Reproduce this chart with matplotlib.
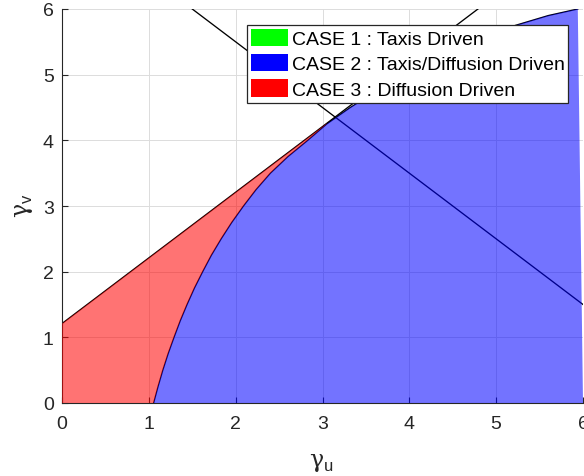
import matplotlib.pyplot as plt
import numpy as np
from matplotlib.patches import Patch

plt.rcParams['font.family'] = ['Liberation Sans', 'DejaVu Sans']
plt.rcParams['mathtext.fontset'] = 'custom'
plt.rcParams['mathtext.rm'] = 'DejaVu Serif'
plt.rcParams['mathtext.sf'] = 'Liberation Sans'

# Grenzkurve zwischen CASE 2 und CASE 3
kurve_u = [1.055, 1.106, 1.161, 1.222, 1.29, 1.361, 1.44, 1.525, 1.62, 1.72,
           1.833, 1.955, 2.09, 2.235, 2.40, 2.60, 2.83, 3.05, 3.32, 3.62,
           3.98, 4.36, 4.78, 5.22, 5.60, 5.94]
kurve_v = [0.00, 0.25, 0.50, 0.75, 1.00, 1.25, 1.50, 1.75, 2.00, 2.25,
           2.50, 2.75, 3.00, 3.25, 3.50, 3.75, 4.00, 4.25, 4.50, 4.75,
           5.00, 5.25, 5.50, 5.75, 5.90, 6.00]
beruehr_idx = 17  # Punkt, an dem die Kurve die steigende Gerade berührt

# steigende Gerade
gerade1_u = [0.0, 4.79]
gerade1_v = [1.21, 6.0]
# fallende Gerade
gerade2_u = [1.5, 6.0]
gerade2_v = [6.0, 1.5]

achse_max = 6
ticks = [0, 1, 2, 3, 4, 5, 6]

labels = ["CASE 1 : Taxis Driven",
          "CASE 2 : Taxis/Diffusion Driven",
          "CASE 3 : Diffusion Driven"]
farben = ["#00ff00", "#0000ff", "#ff0000"]

fig = plt.figure(figsize=(5.84, 4.77), dpi=100)
ax = fig.add_axes([62 / 584, 73 / 477, 521 / 584, 394 / 477])

# Linien unter den halbtransparenten Flächen
ax.plot(gerade1_u, gerade1_v, color="black", linewidth=0.95, zorder=2)
ax.plot(gerade2_u, gerade2_v, color="black", linewidth=0.95, zorder=2)
ax.plot(kurve_u, kurve_v, color="black", linewidth=0.95, zorder=2)

# CASE 3 Fläche: zwischen Gerade und Kurve
u_b = kurve_u[beruehr_idx]
v_b = np.interp(u_b, gerade1_u, gerade1_v)
rot_u = [0, 0, u_b] + kurve_u[beruehr_idx::-1]
rot_v = [0, gerade1_v[0], v_b] + kurve_v[beruehr_idx::-1]
ax.fill(rot_u, rot_v, color=farben[2], alpha=0.55, linewidth=0, zorder=3)

# CASE 2 Fläche: rechts der Kurve
blau_u = kurve_u + [achse_max]
blau_v = kurve_v + [0]
ax.fill(blau_u, blau_v, color=farben[1], alpha=0.55, linewidth=0, zorder=3)

ax.set_xlim(0, achse_max)
ax.set_ylim(0, achse_max)
ax.set_xticks(ticks)
ax.set_yticks(ticks)
ax.grid(True, color="#dcdcdc", linewidth=0.7)
ax.set_axisbelow(True)
ax.spines["top"].set_visible(False)
ax.spines["right"].set_visible(False)
for s in ("left", "bottom"):
    ax.spines[s].set_color("#262626")
    ax.spines[s].set_linewidth(0.8)
ax.tick_params(direction="in", length=4, width=0.8, colors="#262626",
               labelsize=14, top=False, right=False)
ax.tick_params(axis="x", pad=8.5)
ax.tick_params(axis="y", pad=6)

fig.text(321 / 584, 1 - 463 / 477, r"$\mathrm{\gamma}_{\mathsf{u}}$",
         fontsize=17, ha="center", va="center", color="#262626")
fig.text(24 / 584, 1 - 206 / 477, r"$\mathrm{\gamma}_{\mathsf{v}}$",
         fontsize=17, ha="center", va="center", rotation=90, color="#262626")

handles = [Patch(facecolor=f, edgecolor="none") for f in farben]
leg = fig.legend(handles, labels, loc="upper left",
                 bbox_to_anchor=(247 / 584, 1 - 26 / 477), borderaxespad=0,
                 fontsize=14, fancybox=False, framealpha=1, edgecolor="#262626",
                 handlelength=1.9, handleheight=1.0, handletextpad=0.2,
                 labelspacing=0.3, borderpad=0.2)
leg.get_frame().set_linewidth(0.9)
leg.set_zorder(10)

fig.savefig("out.png", dpi=100)
